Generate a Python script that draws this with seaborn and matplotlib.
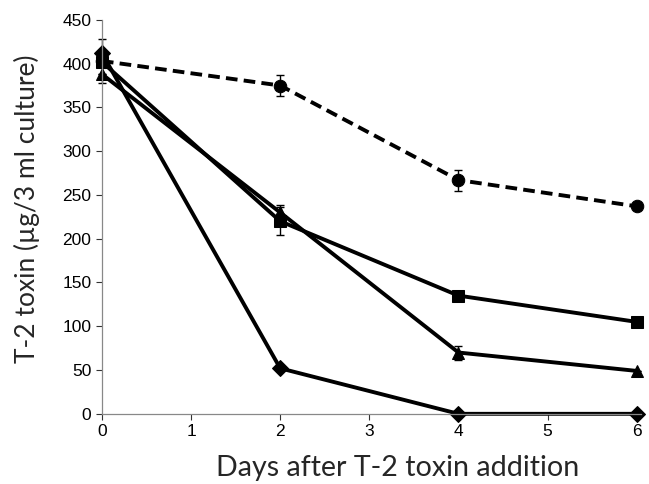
import numpy as np
import pandas as pd
import seaborn as sns
import matplotlib.pyplot as plt

days = [0, 2, 4, 6]
control = [403, 375, 267, 237]
control_err = [25, 12, 12, 0]
square = [402, 220, 135, 105]
square_err = [0, 16, 0, 0]
triangle = [388, 230, 70, 49]
triangle_err = [0, 8, 8, 0]
diamond = [412, 52, 0, 0]
diamond_err = [0, 0, 0, 0]

sns.set_style('white')
plt.rcParams['font.family'] = ['Liberation Sans', 'DejaVu Sans']

df = pd.DataFrame({
    'day': days * 4,
    'toxin': control + square + triangle + diamond,
    'series': ['control'] * 4 + ['square'] * 4 + ['triangle'] * 4 + ['diamond'] * 4,
})

fig = plt.figure(figsize=(6.49, 4.84), dpi=100)
ax = fig.add_axes([0.157, 0.145, 0.831, 0.814])

styles = {'control': ('o', (0, (3, 1.6))), 'square': ('s', '-'),
          'triangle': ('^', '-'), 'diamond': ('D', '-')}
errs = {'control': control_err, 'square': square_err,
        'triangle': triangle_err, 'diamond': diamond_err}

for name, (m, ls) in styles.items():
    sub = df[df.series == name]
    sns.lineplot(data=sub, x='day', y='toxin', ax=ax, color='black', lw=2.8,
                 linestyle=ls, marker=m, markersize=9 if m != 'D' else 8.5,
                 markeredgecolor='black', legend=False)
    ax.errorbar(sub.day, sub.toxin, yerr=errs[name], fmt='none', ecolor='black',
                elinewidth=1, capsize=3, capthick=1)

ax.set_xlim(0, 6.05)
ax.set_ylim(0, 450)
ax.set_xticks(range(7))
ax.set_yticks(range(0, 451, 50))
ax.tick_params(axis='both', labelsize=12.5, colors='#333333', length=4, width=0.8,
               direction='out', bottom=True, left=True)
for t in ax.get_xticklabels() + ax.get_yticklabels():
    t.set_color('black')
for s in ['top', 'right']:
    ax.spines[s].set_visible(False)
for s in ['left', 'bottom']:
    ax.spines[s].set_color('#888888')
    ax.spines[s].set_linewidth(0.9)
for art in ax.lines + ax.collections:
    art.set_clip_on(False)

ax.set_xlabel('Days after T-2 toxin addition', fontsize=20.6, family=['Lato', 'DejaVu Sans'])
ax.set_ylabel('T-2 toxin (µg/3 ml culture)', fontsize=19, family=['Lato', 'DejaVu Sans'])
ax.xaxis.set_label_coords(0.549, -0.105)
ax.yaxis.set_label_coords(-0.115, 0.52)

fig.savefig('out.png', dpi=100)
